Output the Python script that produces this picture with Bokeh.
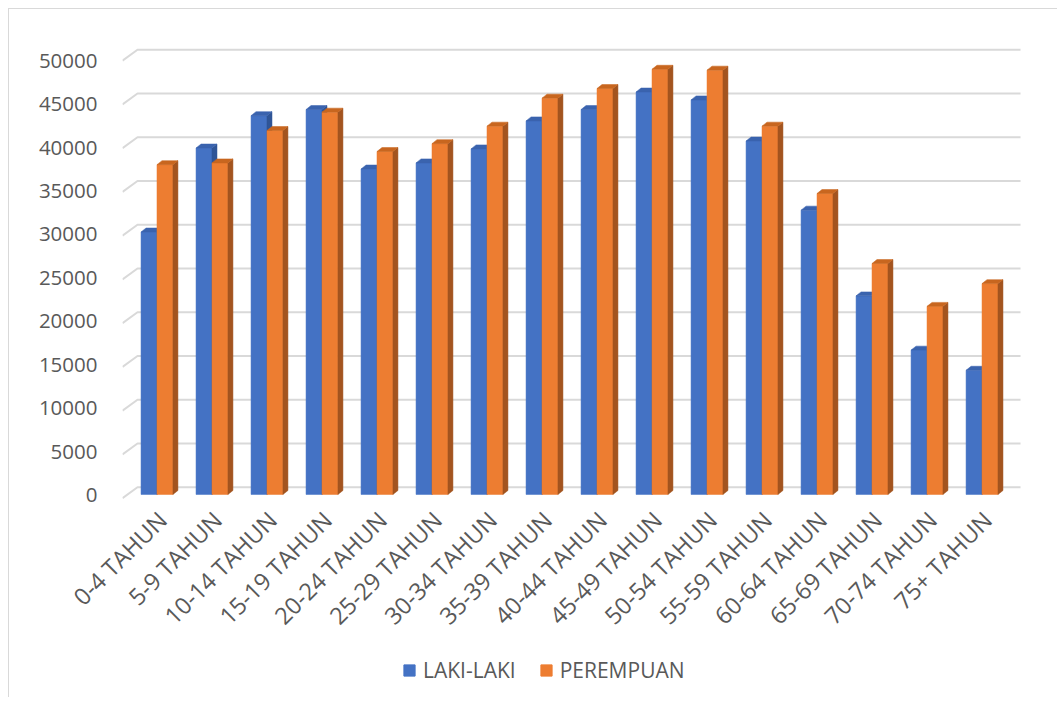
from math import pi
from bokeh.plotting import figure
from bokeh.layouts import column
from bokeh.models import Range1d, LinearAxis, FixedTicker, ColumnDataSource, Legend, LegendItem
from bokeh.embed import file_html
from bokeh.resources import INLINE

CATEGORIES = ["0-4 TAHUN", "5-9 TAHUN", "10-14 TAHUN", "15-19 TAHUN", "20-24 TAHUN",
              "25-29 TAHUN", "30-34 TAHUN", "35-39 TAHUN", "40-44 TAHUN", "45-49 TAHUN",
              "50-54 TAHUN", "55-59 TAHUN", "60-64 TAHUN", "65-69 TAHUN", "70-74 TAHUN",
              "75+ TAHUN"]
LAKI_LAKI = [30000, 39600, 43300, 44000, 37200, 37900, 39500, 42700,
             44000, 46000, 45100, 40400, 32500, 22700, 16500, 14200]
PEREMPUAN = [37700, 37900, 41600, 43700, 39200, 40100, 42100, 45300,
             46400, 48600, 48500, 42100, 34400, 26400, 21500, 24100]
SERIES_NAMES = ["LAKI-LAKI", "PEREMPUAN"]
Y_TICKS = [0, 5000, 10000, 15000, 20000, 25000, 30000, 35000, 40000, 45000, 50000]

FONT = "Open Sans"
TEXT_COLOR = "#595959"
GRID_COLOR = "#D9D9D9"
FACE_COLORS = [
    ("#4472C4", "#2F5597", "#3A63AE"),   # front, side, top (blue)
    ("#ED7D31", "#A3541F", "#C8661F"),   # front, side, top (orange)
]

# geometry (3D look)
BAR_W = 0.29
DX = 5 / 55.0
DY = 457.0
X_FRONT, X_BACK, X_END = -0.627, -0.3545, 15.7
GRID_FRONT_OFF, GRID_BACK_OFF = -423.0, 834.0
TICK_SHIFT = 0.1

W = 1048
H_MAIN = 640
H_LEG = 48

p = figure(width=W, height=H_MAIN, output_backend="svg", toolbar_location=None,
           x_range=Range1d(-0.627, 15.736), y_range=Range1d(-686, 51886),
           y_axis_location=None, min_border_left=113, min_border_right=35,
           min_border_top=31, min_border_bottom=149)
p.outline_line_color = None
p.grid.visible = False
p.extra_y_ranges = {"front": Range1d(-575, 52299)}

# back-wall gridlines with slanted side-wall segment
gxs = [[X_FRONT, X_BACK, X_END] for t in Y_TICKS]
gys = [[t + GRID_FRONT_OFF, t + GRID_BACK_OFF, t + GRID_BACK_OFF] for t in Y_TICKS]
p.multi_line(xs=gxs, ys=gys, line_color=GRID_COLOR, line_width=2)

sources = []
for s, values in enumerate([LAKI_LAKI, PEREMPUAN]):
    front_c, side_c, top_c = FACE_COLORS[s]
    lefts = [i - BAR_W + s * BAR_W for i in range(len(values))]
    rights = [l + BAR_W for l in lefts]
    src = ColumnDataSource(dict(left=lefts, right=rights, top=values,
                                bottom=[0] * len(values)))
    sources.append(src)
    p.quad(left="left", right="right", top="top", bottom="bottom", source=src,
           fill_color=front_c, line_color=front_c, line_width=0.5)
    side_xs = [[r, r + DX, r + DX, r] for r in rights]
    side_ys = [[0, DY, v + DY, v] for v in values]
    p.patches(xs=side_xs, ys=side_ys, fill_color=side_c, line_color=side_c, line_width=0.5)
    top_xs = [[l, l + DX, r + DX, r] for l, r in zip(lefts, rights)]
    top_ys = [[v, v + DY, v + DY, v] for v in values]
    p.patches(xs=top_xs, ys=top_ys, fill_color=top_c, line_color=top_c, line_width=0.5)

# x axis
tick_pos = [i + TICK_SHIFT for i in range(len(CATEGORIES))]
xa = p.xaxis[0]
xa.ticker = FixedTicker(ticks=tick_pos)
xa.major_label_overrides = {t: c for t, c in zip(tick_pos, CATEGORIES)}
xa.major_label_orientation = pi / 4
xa.axis_line_color = None
xa.major_tick_line_color = None
xa.minor_tick_line_color = None
xa.major_label_standoff = 9
xa.major_label_text_font = FONT
xa.major_label_text_font_size = "23.5px"
xa.major_label_text_color = TEXT_COLOR

# y axis (front scale)
ya = LinearAxis(y_range_name="front", ticker=FixedTicker(ticks=Y_TICKS))
ya.axis_line_color = None
ya.major_tick_line_color = None
ya.minor_tick_line_color = None
ya.major_label_standoff = 19
ya.major_label_text_font = FONT
ya.major_label_text_font_size = "20.5px"
ya.major_label_text_color = TEXT_COLOR
p.add_layout(ya, "left")

# legend strip (separate figure so the legend is not clipped by the chart frame);
# its renderers reuse the series data but lie outside the strip's view.
lg = figure(width=W, height=H_LEG, output_backend="svg", toolbar_location=None,
            x_range=Range1d(0, 1), y_range=Range1d(-2, -1),
            x_axis_location=None, y_axis_location=None, min_border=0)
lg.outline_line_color = None
lg.grid.visible = False
leg_renderers = [lg.quad(left="left", right="right", top="top", bottom="bottom",
                         source=sources[k], fill_color=FACE_COLORS[k][0],
                         line_color=FACE_COLORS[k][0])
                 for k in range(2)]
legend = Legend(items=[LegendItem(label=SERIES_NAMES[k], renderers=[leg_renderers[k]])
                       for k in range(2)],
                orientation="horizontal", location=(280, 13), margin=0,
                glyph_width=14, glyph_height=14, label_standoff=7, spacing=23,
                padding=0, border_line_color=None, background_fill_alpha=0,
                label_text_font=FONT, label_text_font_size="21px",
                label_text_color=TEXT_COLOR)
lg.add_layout(legend)

layout = column(p, lg, spacing=0)
layout.styles = {"margin-left": "8px", "margin-top": "8px",
                 "border-left": "1px solid #D9D9D9", "border-top": "1px solid #D9D9D9"}

open("out.html", "w").write(file_html(layout, INLINE))
